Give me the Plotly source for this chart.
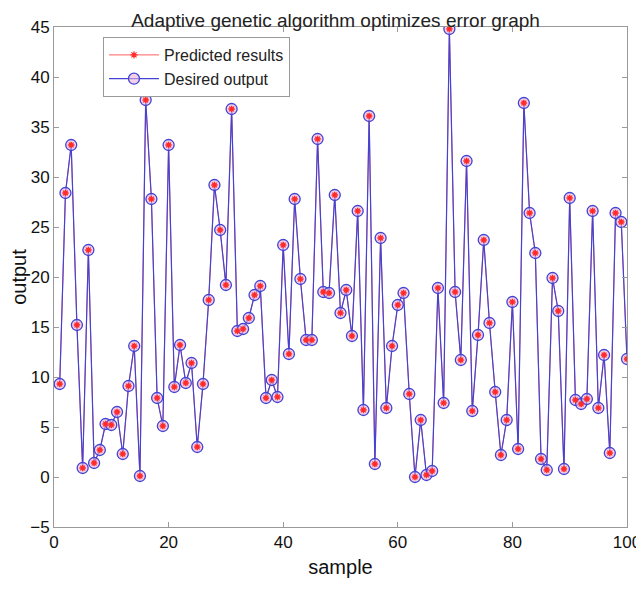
import plotly.graph_objects as go

samples = list(range(1, 101))
desired = [9.3, 28.4, 33.2, 15.2, 0.9, 22.7, 1.4, 2.7, 5.3, 5.2,
           6.5, 2.3, 9.1, 13.1, 0.1, 37.7, 27.8, 7.9, 5.1, 33.2,
           9.0, 13.2, 9.4, 11.4, 3.0, 9.3, 17.7, 29.2, 24.7, 19.2,
           36.8, 14.6, 14.8, 15.9, 18.2, 19.1, 7.9, 9.7, 8.0, 23.2,
           12.3, 27.8, 19.8, 13.7, 13.7, 33.8, 18.5, 18.4, 28.2, 16.4,
           18.7, 14.1, 26.6, 6.7, 36.1, 1.3, 23.9, 6.9, 13.1, 17.2,
           18.4, 8.3, 0.0, 5.7, 0.2, 0.6, 18.9, 7.4, 44.8, 18.5,
           11.7, 31.6, 6.6, 14.2, 23.7, 15.4, 8.5, 2.2, 5.7, 17.5,
           2.8, 37.4, 26.4, 22.4, 1.8, 0.7, 19.9, 16.6, 0.8, 27.9,
           7.7, 7.3, 7.8, 26.6, 6.9, 12.2, 2.4, 26.4, 25.5, 11.8]
predicted = list(desired)

x_ticks = [0, 20, 40, 60, 80, 100]
y_ticks = [-5, 0, 5, 10, 15, 20, 25, 30, 35, 40, 45]

FONT = "Liberation Sans, Arial, sans-serif"
BLUE = "#4343d4"
RED = "#ff2a2a"

fig = go.Figure()
fig.add_trace(go.Scatter(
    x=samples, y=predicted, name="Predicted results", mode="lines+markers",
    line=dict(color="#ff6060", width=1),
    marker=dict(symbol="asterisk-open", size=6, color=RED, line=dict(width=1.2, color=RED)),
))
fig.add_trace(go.Scatter(
    x=samples, y=desired, name="Desired output", mode="lines+markers",
    line=dict(color=BLUE, width=1.2),
    marker=dict(symbol="circle", size=11, color="rgba(235,180,215,0.6)",
                line=dict(width=1.3, color=BLUE)),
))
fig.add_trace(go.Scatter(
    x=samples, y=predicted, mode="markers", showlegend=False, hoverinfo="skip",
    marker=dict(symbol="asterisk-open", size=5, color=RED, line=dict(width=1.3, color=RED)),
))

axis_common = dict(
    showgrid=False, zeroline=False, showline=True, mirror="ticks",
    linecolor="#9a9a9a", linewidth=1, ticks="inside", ticklen=5,
    tickcolor="#9a9a9a", tickfont=dict(family=FONT, size=17, color="#111"),
    automargin=False,
)

fig.update_layout(
    width=636, height=585,
    margin=dict(l=46, r=17, t=19, b=66),
    paper_bgcolor="white", plot_bgcolor="white",
    font=dict(family=FONT, color="#111"),
    title=dict(text="Adaptive genetic algorithm optimizes error graph",
               x=0.515, xanchor="center", y=0.99, yanchor="top",
               font=dict(family=FONT, size=19, color="#222"), automargin=False),
    xaxis=dict(range=[0, 100], tickvals=x_ticks,
               title=dict(text="sample", font=dict(family=FONT, size=20, color="#111"), standoff=8),
               **axis_common),
    yaxis=dict(range=[-5, 45], tickvals=y_ticks,
               title=dict(text="output", font=dict(family=FONT, size=20, color="#111"), standoff=10),
               **axis_common),
    legend=dict(x=0.0855, y=0.98, xanchor="left", yanchor="top",
                bgcolor="white", bordercolor="#9a9a9a", borderwidth=1,
                font=dict(family=FONT, size=16, color="#222"),
                tracegroupgap=0, itemwidth=50),
    showlegend=True,
)

fig.write_html("out.html")
